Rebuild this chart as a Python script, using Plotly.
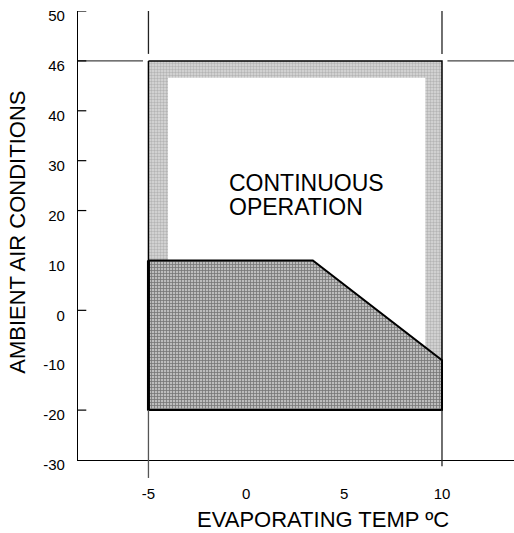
import plotly.graph_objects as go

# ---- data ----
x_tick_vals = [-5, 0, 5, 10]
x_tick_text = ["-5", "0", "5", "10"]
y_labels = ["-30", "-20", "-10", "0", "10", "20", "30", "40", "46", "50"]  # schematic (equally spaced) scale
y_ticked = ["50", "46", "40", "30", "20", "0", "-20"]

evap_min, evap_max = -5, 10          # evaporating temp limits (ºC)
amb_max, amb_min = 46, -20           # ambient limits
amb_top = 50

# restricted (dark) operating region
restr_x = [-5, 3.4, 10, 10, -5]
restr_y = [10, 10, -10, -20, -20]

# continuous operation inner (white) area edges
inner_x = [-4.0, 9.15]

def ypos(v):
    return y_labels.index(str(v))

n = len(y_labels) - 1
x_range = [-8.6, 13.68]
frame_dy = 0.34
gap_dy = 0.14
gap_dx = 0.28

fig = go.Figure()

# outer light frame
ox = [evap_min, evap_max, evap_max, evap_min, evap_min]
oy = [ypos(amb_max), ypos(amb_max), ypos(amb_min), ypos(amb_min), ypos(amb_max)]
fig.add_trace(go.Scatter(
    x=ox, y=oy, mode="lines", fill="toself",
    fillcolor="#dadada",
    fillpattern=dict(shape=".", fgcolor="#8e8e8e", bgcolor="#dadada", size=3, solidity=0.5),
    line=dict(color="black", width=1.5),
    hoverinfo="skip", showlegend=False))

# inner white (continuous operation area)
ix = [inner_x[0], inner_x[1], inner_x[1], inner_x[0], inner_x[0]]
iy = [ypos(amb_max) - frame_dy, ypos(amb_max) - frame_dy, ypos(amb_min), ypos(amb_min), ypos(amb_max) - frame_dy]
fig.add_trace(go.Scatter(
    x=ix, y=iy, mode="lines", fill="toself", fillcolor="white",
    line=dict(color="rgba(0,0,0,0)", width=0),
    hoverinfo="skip", showlegend=False))

# restricted dark region
rx = restr_x + [restr_x[0]]
ry = [ypos(v) for v in restr_y] + [ypos(restr_y[0])]
fig.add_trace(go.Scatter(
    x=rx, y=ry, mode="lines", fill="toself",
    fillcolor="#a0a0a0",
    fillpattern=dict(shape="+", fgcolor="#2e2e2e", bgcolor="#bdbdbd", size=3, solidity=0.45),
    line=dict(color="black", width=2),
    hoverinfo="skip", showlegend=False))
# heavier left edge of the restricted region
fig.add_trace(go.Scatter(
    x=[restr_x[0], restr_x[-1]], y=[ypos(restr_y[0]), ypos(restr_y[-1])], mode="lines",
    line=dict(color="black", width=3), hoverinfo="skip", showlegend=False))

shapes = []
line_style = dict(color="#222222", width=1.3)
# vertical guide lines above the box
for xv in (evap_min, evap_max):
    shapes.append(dict(type="line", xref="x", yref="y", x0=xv, x1=xv,
                       y0=ypos(amb_top), y1=ypos(amb_max) + gap_dy, line=line_style))
# vertical guide lines below the box (extend past axis)
shapes.append(dict(type="line", xref="x", yref="paper", x0=evap_min, x1=evap_min,
                   y0=ypos(amb_min) / n, y1=-0.04, line=dict(color="#555555", width=1.3)))
shapes.append(dict(type="line", xref="x", yref="paper", x0=evap_max, x1=evap_max,
                   y0=ypos(amb_min) / n, y1=-0.014, line=line_style))
# horizontal 46 guide lines
shapes.append(dict(type="line", xref="x", yref="y", x0=x_range[0], x1=evap_min - gap_dx,
                   y0=ypos(amb_max), y1=ypos(amb_max), line=dict(color="#444444", width=1.3)))
shapes.append(dict(type="line", xref="x", yref="y", x0=evap_max + gap_dx, x1=x_range[1],
                   y0=ypos(amb_max), y1=ypos(amb_max), line=dict(color="#444444", width=1.3)))
# y ticks (inside)
for lab in y_ticked:
    shapes.append(dict(type="line", xref="paper", yref="y", x0=0, x1=0.019,
                       y0=ypos(lab), y1=ypos(lab), line=dict(color="black", width=1.2)))

font_fam = "Liberation Sans, Arial, sans-serif"
annotations = [
    dict(text="CONTINUOUS", xref="paper", yref="paper", x=0.344, y=0.616,
         xanchor="left", yanchor="middle", showarrow=False, borderpad=0, font=dict(size=23)),
    dict(text="OPERATION", xref="paper", yref="paper", x=0.344, y=0.564,
         xanchor="left", yanchor="middle", showarrow=False, borderpad=0, font=dict(size=23)),
    dict(text="EVAPORATING TEMP ºC", xref="paper", yref="paper", x=0.562, y=-0.133,
         xanchor="center", yanchor="middle", showarrow=False, borderpad=0, borderwidth=0,
         font=dict(size=22)),
    dict(text="AMBIENT AIR CONDITIONS", xref="paper", yref="paper", x=-0.138, y=0.508,
         xanchor="center", yanchor="middle", textangle=-90, showarrow=False, font=dict(size=22)),
]

fig.update_layout(
    width=514, height=533,
    margin=dict(l=78, r=0, t=11, b=73),
    paper_bgcolor="white", plot_bgcolor="white",
    font=dict(family=font_fam, color="black", size=15),
    shapes=shapes, annotations=annotations,
    xaxis=dict(range=x_range, tickvals=x_tick_vals, ticktext=x_tick_text,
               showline=True, linecolor="black", linewidth=1.3, showgrid=False,
               zeroline=False, ticks="", ticklabelstandoff=20, tickfont=dict(size=15)),
    yaxis=dict(range=[0, n], tickvals=list(range(len(y_labels))), ticktext=y_labels,
               showline=True, linecolor="black", linewidth=1.3, showgrid=False,
               zeroline=False, ticks="", ticklabelstandoff=9, ticklabelshift=5,
               ticklabeloverflow="allow", tickfont=dict(size=15)),
)

fig.write_html("out.html", config={"displayModeBar": False},
               post_script="document.body.style.margin='0';")
